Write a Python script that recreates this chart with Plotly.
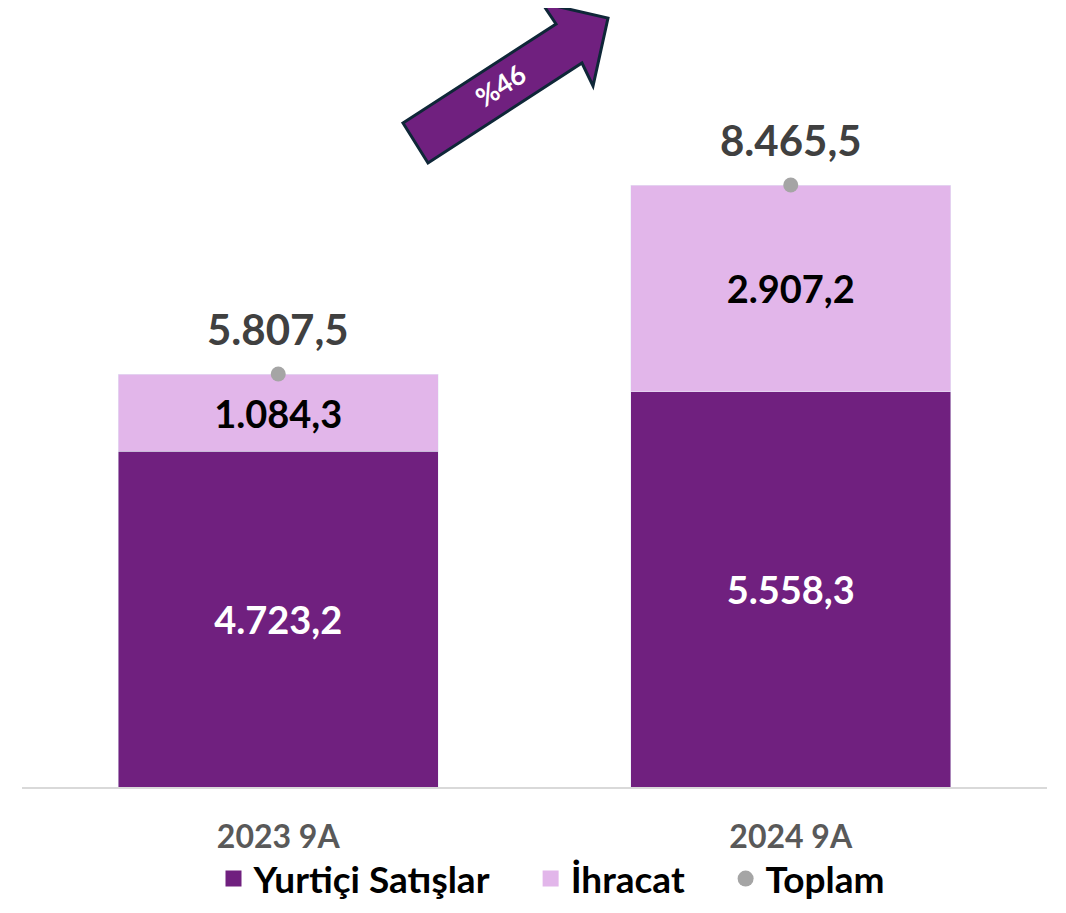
import plotly.graph_objects as go

categories = ["2023 9A", "2024 9A"]
yurtici = [4723.2, 5558.3]
ihracat = [1084.3, 2907.2]
toplam = [5807.5, 8465.5]
growth_label = "%46"
legend_names = ["Yurtiçi Satışlar", "İhracat", "Toplam"]

def tr(v):
    s = f"{v:,.1f}"
    return s.replace(",", "X").replace(".", ",").replace("X", ".")

PURPLE = "#70207F"
LIGHT = "#E2B6EA"
GRAY = "#A5A5A5"
FONT = "Lato"

# page body has an 8px margin: figure origin sits at screen (8, 8)
OFF = 8
FW, FH = 1050, 897
L, T, W, H = 22 - OFF, 13 - OFF, 1025, 774          # figure coordinates
YMAX = 774 / (602 / 8465.5)                            # keep the reference scale

fig = go.Figure()
fig.add_trace(go.Bar(
    x=categories, y=yurtici, name=legend_names[0], marker_color=PURPLE,
    text=[tr(v) for v in yurtici], textposition="inside", insidetextanchor="middle",
    textfont=dict(family=FONT, size=38, color="white", weight="bold"),
    showlegend=False, hoverinfo="skip"))
fig.add_trace(go.Bar(
    x=categories, y=ihracat, name=legend_names[1], marker_color=LIGHT,
    text=[tr(v) for v in ihracat], textposition="inside", insidetextanchor="middle",
    textfont=dict(family=FONT, size=38, color="black", weight="bold"),
    showlegend=False, hoverinfo="skip"))
fig.add_trace(go.Scatter(
    x=categories, y=toplam, name=legend_names[2], mode="markers",
    marker=dict(color=GRAY, size=15), showlegend=False, hoverinfo="skip"))

# legend entries (bigger symbols than the bar legend allows)
pad = "\u00a0" * 4
fig.add_trace(go.Scatter(x=[None], y=[None], mode="markers", name=legend_names[0] + pad,
                         marker=dict(symbol="square", color=PURPLE, size=23)))
fig.add_trace(go.Scatter(x=[None], y=[None], mode="markers", name=legend_names[1] + pad,
                         marker=dict(symbol="square", color=LIGHT, size=23)))
fig.add_trace(go.Scatter(x=[None], y=[None], mode="markers", name=legend_names[2],
                         marker=dict(symbol="circle", color=GRAY, size=17)))

for c, t in zip(categories, toplam):
    fig.add_annotation(x=c, y=t, text=tr(t), showarrow=False, yanchor="middle", yshift=45,
                       font=dict(family=FONT, size=42, color="#404040", weight="bold"))

# growth arrow (decoration), given in screen pixels -> paper coordinates
def P(px, py):
    return (px - OFF - L) / W, (T + H - (py - OFF)) / H
pts = [(403, 123), (556, 24), (542, 3), (608, 18), (593, 86), (582, 63), (428, 163)]
path = "M " + " L ".join(f"{P(x, y)[0]:.4f},{P(x, y)[1]:.4f}" for x, y in pts) + " Z"
fig.add_shape(type="path", path=path, xref="paper", yref="paper",
              fillcolor=PURPLE, line=dict(color="#0F2738", width=3))
tx, ty = P(500, 86)
fig.add_annotation(x=tx, y=ty, xref="paper", yref="paper", text=growth_label, showarrow=False,
                   xanchor="center", yanchor="middle",
                   textangle=-33, font=dict(family=FONT, size=27, color="white", weight="bold"))

lx, ly = P(552, 879)
fig.update_layout(
    width=FW, height=FH,
    margin=dict(l=L, r=FW - L - W, t=T, b=FH - T - H, autoexpand=False),
    barmode="stack", bargap=0.376,
    plot_bgcolor="white", paper_bgcolor="white",
    legend=dict(orientation="h", x=lx, xanchor="center", y=ly, yanchor="middle",
                font=dict(family=FONT, size=37, color="black", weight="bold"),
                itemsizing="trace", traceorder="normal"),
    xaxis=dict(showline=True, linecolor="#D9D9D9", linewidth=2, ticks="outside",
               ticklen=21, tickcolor="rgba(0,0,0,0)",
               tickfont=dict(family=FONT, size=32, color="#595959", weight="bold")),
    yaxis=dict(visible=False, range=[0, YMAX], showgrid=False),
)

fig.write_html("out.html")
